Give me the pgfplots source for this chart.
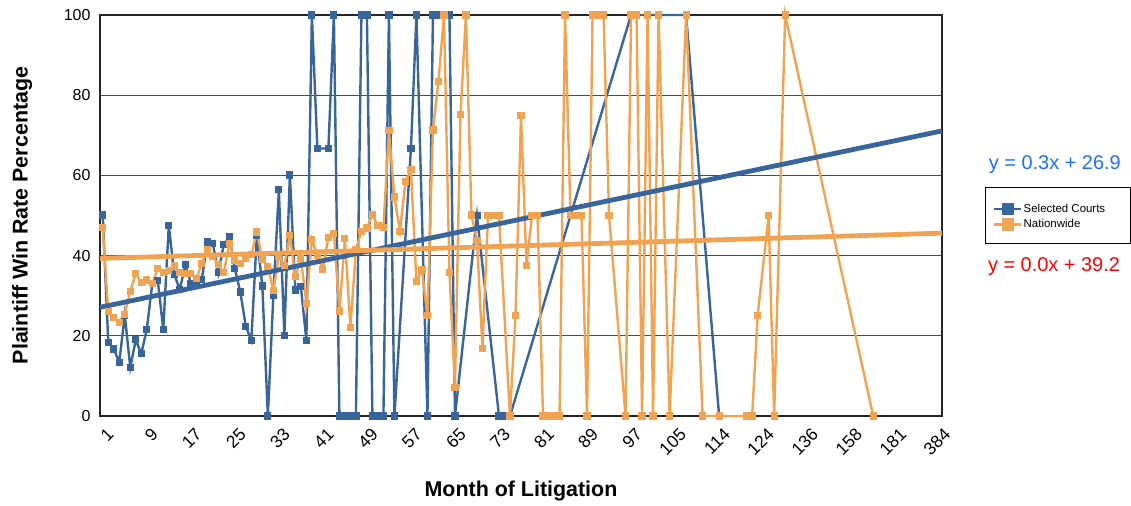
\documentclass[border=0pt]{standalone}
\usepackage{fontspec}
\setmainfont{Liberation Sans}
\usepackage{pgfplots}
\pgfplotsset{compat=1.18}
\definecolor{serBlue}{RGB}{57,101,157}
\definecolor{serOrange}{RGB}{241,163,84}
\definecolor{eqBlue}{RGB}{30,110,255}
\begin{document}
\begin{tikzpicture}
\path[use as bounding box] (-100bp,-90bp) rectangle (1031bp,416bp);
\begin{axis}[
  at={(0bp,0bp)}, anchor=south west,
  scale only axis, width=842bp, height=401bp,
  xmin=0.5, xmax=153.5, ymin=0, ymax=100,
  xtick={1,9,...,153},
  xticklabels={1,9,17,25,33,41,49,57,65,73,81,89,97,105,114,124,136,158,181,384},
  ytick={0,20,...,100},
  ymajorgrids,
  major grid style={black!70, line width=0.9bp},
  axis line style={black!85, line width=1.6bp},
  major tick length=0pt,
  yticklabel style={font=\fontsize{16}{19}\selectfont, xshift=-6bp},
  xticklabel style={font=\fontsize{17.5}{20}\selectfont, rotate=45, anchor=north east, inner sep=0pt, xshift=-5bp, yshift=-10bp},
  /pgf/number format/assume math mode=true,
  xlabel={Month of Litigation},
  ylabel={Plaintiff Win Rate Percentage},
  label style={font=\bfseries\fontsize{21.5}{25}\selectfont},
  xlabel style={at={(axis description cs:0.5,-0.1880)}, anchor=center},
  ylabel style={at={(axis description cs:-0.0926,0.5)}, anchor=center},
  clip=false,
  legend style={at={(axis description cs:1.0606,0.5324)}, anchor=north west,
    draw=none, fill=none, inner sep=0pt, column sep=0pt, row sep=3bp,
    font=\fontsize{11.5}{13}\selectfont,
    nodes={inner xsep=1bp, inner ysep=1.2bp}},
  legend cell align=left,
  legend image code/.code={
    \draw[#1, mark=none, line width=2.5bp] (0bp,0bp) -- (27bp,0bp);
    \fill[#1] (8.5bp,-5bp) rectangle (18.5bp,5bp);
  },
]
\addplot[color=serBlue, line width=2.4bp, mark=square*, mark size=2.4bp] coordinates {
(1,50.1) (2,18.4) (3,16.7) (4,13.4) (5,25.2) (6,12.1) (7,19.0) (8,15.5) (9,21.6) (10,33)
(11,33.7) (12,21.6) (13,47.5) (14,35.3) (15,31.5) (16,37.7) (17,33.1) (18,32.7) (19,34) (20,43.4)
(21,43) (22,35.7) (23,42.8) (24,44.7) (25,36.8) (26,30.9) (27,22.3) (28,18.9) (29,45) (30,32.4)
(31,0) (32,30) (33,56.4) (34,20.1) (35,60.1) (36,31.4) (37,32.3) (38,18.8) (39,100) (40,66.7)
(42,66.7) (43,100) (44,0) (45,0) (46,0) (47,0) (48,100) (49,100) (50,0) (51,0) (52,0)
(53,100) (54,0) (57,66.7) (58,100) (60,0) (61,100) (62,100) (63,100) (64,100) (65,0)
(69,50) (73,0) (74,0) (75,0) (97,100) (107,100) (113,0)
};
\addlegendentry{Selected Courts}
\addplot[color=serOrange, line width=2.4bp, mark=square*, mark size=2.4bp] coordinates {
(1,47.0) (2,26.0) (3,24.5) (4,23.4) (5,25.4) (6,31.1) (7,35.5) (8,33.3) (9,33.9) (10,33.1)
(11,36.7) (12,35.8) (13,36.3) (14,37.4) (15,35.7) (16,35.5) (17,35.5) (18,34.2) (19,38.1) (20,41.5)
(21,39.7) (22,37.7) (23,35.7) (24,43.0) (25,38.9) (26,38.1) (27,39.2) (28,40.2) (29,45.9) (30,39.0)
(31,37.2) (32,31.3) (33,39.9) (34,37.5) (35,45.0) (36,34.7) (37,39.3) (38,28.1) (39,44.0) (40,40.1)
(41,36.6) (42,44.6) (43,45.6) (44,26.2) (45,44.3) (46,22.0) (47,41.5) (48,46.1) (49,46.9) (50,50.2)
(51,47.5) (52,47.0) (53,71.1) (54,54.6) (55,46.1) (56,58.4) (57,61.5) (58,33.5) (59,36.4) (60,25.0)
(61,71.3) (62,83.4) (63,100) (64,35.7) (65,7.1) (66,75.1) (67,100) (68,50.1) (69,43.8) (70,16.9)
(71,50) (72,50) (73,50) (75,0) (76,25) (77,75) (78,37.5) (79,50) (80,50)
(81,0) (82,0) (83,0) (84,0) (85,100) (86,50) (87,50) (88,50) (89,0) (90,100)
(91,100) (92,100) (93,50) (96,0) (97,100) (98,100) (99,0) (100,100)
(101,0) (102,100) (104,0) (107,100) (110,0) (113,0) (118,0) (119,0) (120,25)
(122,50) (123,0) (125,100) (141,0)
};
\addlegendentry{Nationwide}
\addplot[color=serBlue, line width=4.8bp, forget plot] coordinates {(0.5,27.1) (153.5,71.1)};
\addplot[color=serOrange, line width=4.8bp, forget plot] coordinates {(0.5,39.3) (153.5,45.6)};
\draw[black, line width=1bp] (axis description cs:1.0511,0.5686) rectangle (axis description cs:1.2233,0.4314);
\node[eqBlue, font=\fontsize{20}{24}\selectfont] at (axis description cs:1.134,0.626) {y = 0.3x + 26.9};
\node[red, font=\fontsize{20}{24}\selectfont] at (axis description cs:1.133,0.3716) {y = 0.0x + 39.2};
\end{axis}
\end{tikzpicture}
\end{document}
